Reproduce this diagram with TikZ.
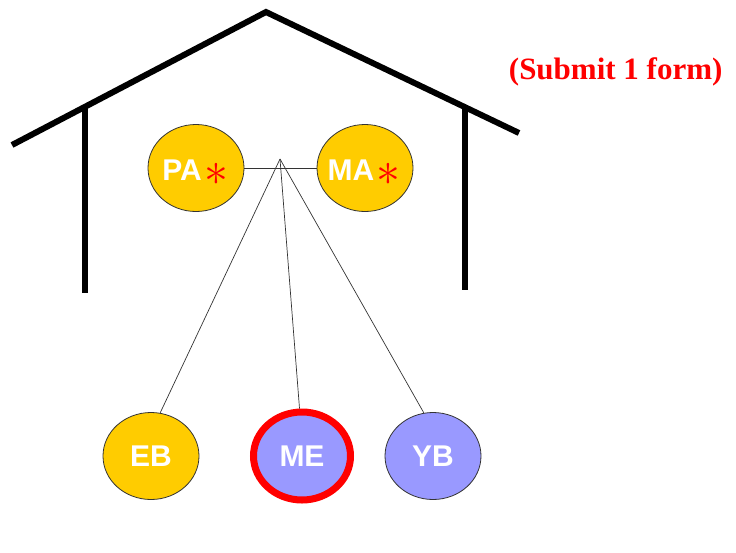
\documentclass[tikz,border=0pt]{standalone}
\usepackage{fontspec}
\setmainfont{Liberation Serif}
\setsansfont{Liberation Sans}
\usepackage{graphicx}
\usetikzlibrary{shapes.geometric}
\definecolor{gold}{HTML}{FFCC00}
\definecolor{lav}{HTML}{9999FF}
\definecolor{redx}{HTML}{FF0000}
\begin{document}
\begin{tikzpicture}[x=1pt,y=-1pt,
  house/.style={line width=6pt},
  person/.style={ellipse, draw=black!80, line width=0.8pt, minimum width=96pt, minimum height=87pt, inner sep=0pt,
     font=\sffamily\bfseries\fontsize{30}{30}\selectfont, text=white},
  lbl/.style={font=\sffamily\bfseries\fontsize{30}{30}\selectfont, text=white, inner sep=0pt},
  link/.style={line width=0.7pt, draw=black!80},
  star/.style={text=redx, inner sep=0pt, font=\fontsize{20}{20}\selectfont}
]
\useasboundingbox (0,0) rectangle (736,552);
% house
\draw[house] (12,145) -- (266,12) -- (519,133);
\draw[house] (85,107) -- (85,293);
\draw[house] (465,108) -- (465,290);
% text
\node[text=redx, font=\bfseries\fontsize{31}{31}\selectfont, anchor=east] (sub) at (726,72) {(Submit 1 form)};
% parents
\node[person, fill=gold] (PA) at (196,168) {};
\node[person, fill=gold] (MA) at (365,168) {};
\node[lbl] (PAt) at (182,170) {PA};
\node[lbl] (MAt) at (351,170) {MA};
\node[star] (PAs) at (216,174) {\scalebox{2.3}{$\ast$}};
\node[star] (MAs) at (388,174) {\scalebox{2.3}{$\ast$}};
\coordinate (J) at (280,159);
\draw[link] (PA.east) -- (MA.west);
% children
\node[person, fill=gold] (EB) at (151,456) {EB};
\node[person, fill=lav, draw=redx, line width=7pt, minimum width=97pt, minimum height=88pt] (ME) at (302,456) {ME};
\node[person, fill=lav] (YB) at (433,456) {YB};
\draw[link] (J) -- (EB.78);
\draw[link] (J) -- (ME.93);
\draw[link] (J) -- (YB.102);
\end{tikzpicture}
\end{document}
